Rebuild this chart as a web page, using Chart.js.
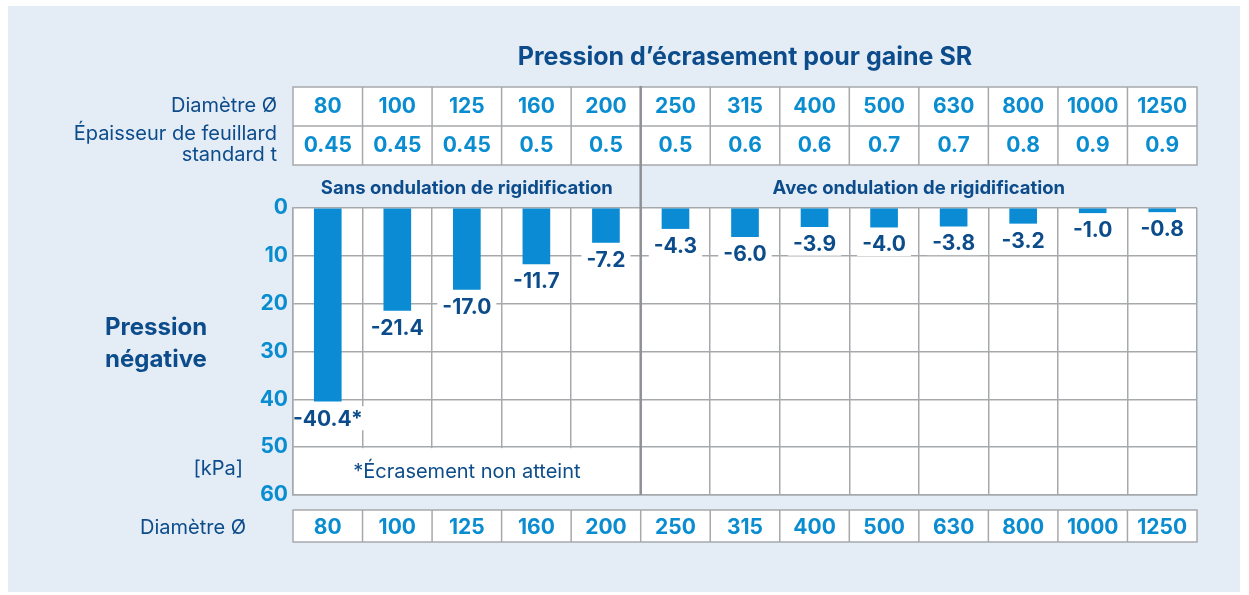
<!DOCTYPE html>
<html>
<head>
<meta charset="utf-8">
<script src="https://cdn.jsdelivr.net/npm/chart.js@4.4.1/dist/chart.umd.min.js"></script>
<style>
  html, body { margin: 0; padding: 0; background: #ffffff; }
  #wrap { width: 1249px; height: 595px; }
</style>
</head>
<body>
<div id="wrap"><canvas id="crushChart" width="1249" height="595"></canvas></div>
<script>
// diameters / strip thickness / crush pressure (kPa, shown as negative)
const diametres = ['80', '100', '125', '160', '200', '250', '315', '400', '500', '630', '800', '1000', '1250'];
const epaisseurs = ['0.45', '0.45', '0.45', '0.5', '0.5', '0.5', '0.6', '0.6', '0.7', '0.7', '0.8', '0.9', '0.9'];
const pressions = [40.4, 21.4, 17.0, 11.7, 7.2, 4.3, 6.0, 3.9, 4.0, 3.8, 3.2, 1.0, 0.8];
const etiquettes = ['-40.4*', '-21.4', '-17.0', '-11.7', '-7.2', '-4.3', '-6.0', '-3.9', '-4.0', '-3.8', '-3.2', '-1.0', '-0.8'];
const yTicks = [0, 10, 20, 30, 40, 50, 60];
const sections = ['Sans ondulation de rigidification', 'Avec ondulation de rigidification'];
const splitIndex = 5; // first column "avec ondulation"

const FONT = 'Inter, Roboto, sans-serif';
const DARK = '#0c4c8b';
const CYAN = '#0a8dd0';
const BAR = '#0a8bd3';
const GRID = '#a6a9ac';
const DIVIDER = '#8d9196';
const BG = '#e4ecf6';

//background, tables, titles
const decorPlugin = {
    id: 'decor',
    beforeDraw(chart) {
        const ctx = chart.ctx;
        const area = chart.chartArea;
        const x = chart.scales.x;
        const colW = (area.right - area.left) / diametres.length;

        ctx.save();
        ctx.fillStyle = BG;
        ctx.fillRect(8, 6, 1232, 586);
        ctx.fillStyle = '#ffffff';
        ctx.fillRect(area.left, area.top, area.right - area.left, area.bottom - area.top);

        // title
        ctx.fillStyle = DARK;
        ctx.textAlign = 'center';
        ctx.textBaseline = 'middle';
        ctx.font = 'bold 25px ' + FONT;
        ctx.fillText('Pression d\u2019écrasement pour gaine SR', (area.left + area.right) / 2, 57);

        // top and bottom tables
        const t0 = 87, t1 = 126, t2 = 165;
        const b0 = 510, b1 = 542;
        ctx.fillStyle = '#ffffff';
        ctx.fillRect(area.left, t0, area.right - area.left, t2 - t0);
        ctx.fillRect(area.left, b0, area.right - area.left, b1 - b0);

        ctx.strokeStyle = GRID;
        ctx.lineWidth = 1.5;
        ctx.strokeRect(area.left, t0, area.right - area.left, t2 - t0);
        ctx.strokeRect(area.left, b0, area.right - area.left, b1 - b0);
        ctx.beginPath();
        ctx.moveTo(area.left, t1);
        ctx.lineTo(area.right, t1);
        for (let i = 1; i < diametres.length; i++) {
            const xx = area.left + i * colW;
            ctx.moveTo(xx, t0); ctx.lineTo(xx, t2);
            ctx.moveTo(xx, b0); ctx.lineTo(xx, b1);
        }
        ctx.stroke();

        ctx.fillStyle = CYAN;
        ctx.font = 'bold 21px ' + FONT;
        diametres.forEach((d, i) => {
            const cx = x.getPixelForValue(i);
            ctx.fillText(d, cx, (t0 + t1) / 2);
            ctx.fillText(epaisseurs[i], cx, (t1 + t2) / 2);
            ctx.fillText(d, cx, (b0 + b1) / 2 + 2);
        });

        // row labels
        ctx.fillStyle = DARK;
        ctx.textAlign = 'right';
        ctx.font = '20px ' + FONT;
        ctx.fillText('Diamètre Ø', 277, 106);
        ctx.fillText('Épaisseur de feuillard', 277, 134);
        ctx.fillText('standard t', 277, 155);
        ctx.fillText('Diamètre Ø', 246, 528);
        ctx.fillText('[kPa]', 243, 469);

        // axis title
        ctx.textAlign = 'left';
        ctx.font = 'bold 24px ' + FONT;
        ctx.fillText('Pression', 105, 328);
        ctx.fillText('négative', 105, 360);

        // section headers
        const splitX = area.left + splitIndex * colW;
        ctx.textAlign = 'center';
        ctx.font = 'bold 18.5px ' + FONT;
        ctx.fillText(sections[0], (area.left + splitX) / 2, 188);
        ctx.fillText(sections[1], (splitX + area.right) / 2, 188);
        ctx.restore();
    },
    afterDatasetsDraw(chart) {
        const ctx = chart.ctx;
        const area = chart.chartArea;
        const x = chart.scales.x;
        const y = chart.scales.y;
        const colW = (area.right - area.left) / diametres.length;
        const splitX = area.left + splitIndex * colW;

        ctx.save();
        // footnote cell (no vertical lines in left part of last row)
        const y50 = y.getPixelForValue(50), y60 = y.getPixelForValue(60);
        ctx.fillStyle = '#ffffff';
        ctx.fillRect(area.left + 1, y50 + 1, splitX - area.left - 2, y60 - y50 - 2);
        ctx.fillStyle = DARK;
        ctx.textAlign = 'center';
        ctx.textBaseline = 'middle';
        ctx.font = '20px ' + FONT;
        ctx.fillText('*Écrasement non atteint', (area.left + splitX) / 2, (y50 + y60) / 2 + 1);

        // divider between the two groups
        ctx.strokeStyle = DIVIDER;
        ctx.lineWidth = 2.5;
        ctx.beginPath();
        ctx.moveTo(splitX, 86);
        ctx.lineTo(splitX, area.bottom);
        ctx.stroke();

        // value labels under each bar
        ctx.font = 'bold 21px ' + FONT;
        pressions.forEach((v, i) => {
            const cx = x.getPixelForValue(i);
            const cy = y.getPixelForValue(v) + 17;
            const w = ctx.measureText(etiquettes[i]).width + 10;
            ctx.fillStyle = '#ffffff';
            ctx.fillRect(Math.max(cx - w / 2, area.left + 1), cy - 12, w, 24);
            ctx.fillStyle = DARK;
            ctx.fillText(etiquettes[i], cx, cy + 1);
        });
        ctx.restore();
    }
};

const ctx = document.getElementById('crushChart').getContext('2d');
const chart = new Chart(ctx, {
    type: 'bar',
    data: {
        labels: diametres,
        datasets: [{
            data: pressions,
            backgroundColor: BAR,
            borderWidth: 0,
            barThickness: 27
        }]
    },
    options: {
        responsive: false,
        animation: false,
        devicePixelRatio: 1,
        layout: {
            padding: { left: 0, top: 208, right: 52, bottom: 100 }
        },
        plugins: {
            legend: { display: false },
            tooltip: { enabled: false }
        },
        scales: {
            x: {
                offset: true,
                ticks: { display: false },
                grid: { offset: true, color: GRID, lineWidth: 1.5, drawTicks: false },
                border: { color: GRID, width: 1.5 },
                afterFit: s => { s.height = 0; }
            },
            y: {
                reverse: true,
                min: 0,
                max: 60,
                afterBuildTicks: s => { s.ticks = yTicks.map(v => ({ value: v })); },
                ticks: {
                    color: CYAN,
                    padding: 5,
                    font: { family: FONT, size: 21, weight: 'bold' }
                },
                grid: { color: GRID, lineWidth: 1.5, drawTicks: false },
                border: { color: GRID, width: 1.5 },
                afterFit: s => { s.width = 293; }
            }
        }
    },
    plugins: [decorPlugin]
});
</script>
</body>
</html>
